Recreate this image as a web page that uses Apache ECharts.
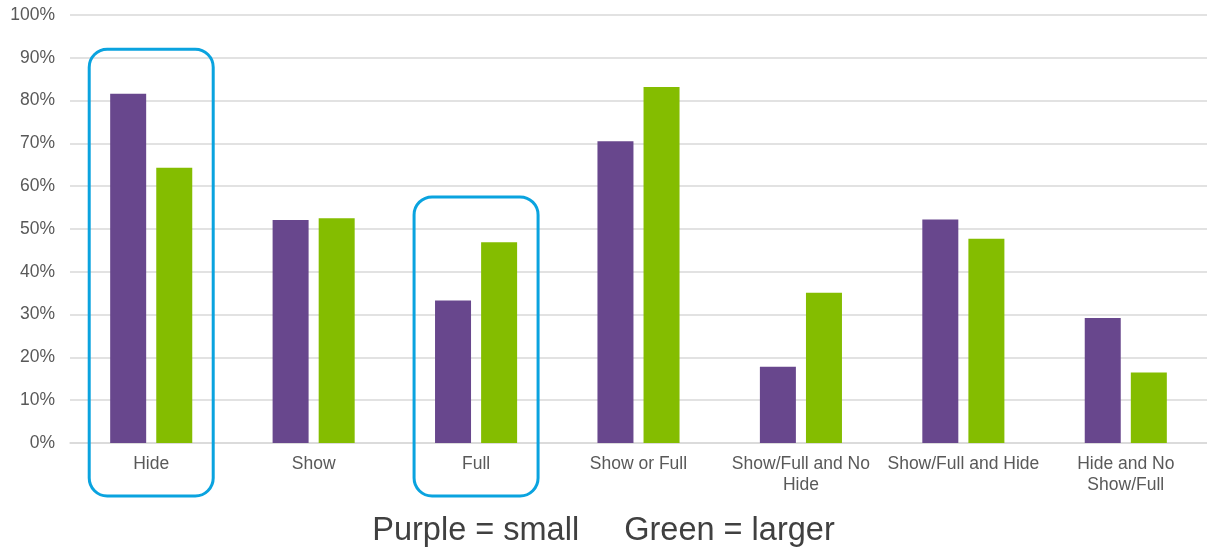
<!DOCTYPE html>
<html>
<head>
<meta charset="utf-8">
<script src="https://cdn.jsdelivr.net/npm/echarts@6/dist/echarts.min.js"></script>
<style>
html,body{margin:0;padding:0;background:#fff;}
#chart{width:1207px;height:554px;}
</style>
</head>
<body>
<div id="chart"></div>
<script>
var categories = ['Hide', 'Show', 'Full', 'Show or Full', 'Show/Full and No Hide', 'Show/Full and Hide', 'Hide and No Show/Full'];
var purpleSmall = [0.816, 0.521, 0.333, 0.705, 0.178, 0.522, 0.292];
var greenLarger = [0.643, 0.525, 0.469, 0.832, 0.351, 0.477, 0.165];
var yTicks = [0, 0.1, 0.2, 0.3, 0.4, 0.5, 0.6, 0.7, 0.8, 0.9, 1.0];
var highlightCats = ['Hide', 'Full'];
var highlightTops = [0.92, 0.575];
var captionText = 'Purple = small     Green = larger';

var chart = echarts.init(document.getElementById('chart'));
var FONT = '"Liberation Sans", Arial, sans-serif';

function wrapLabel(s) {
  // wrap a category label at word boundaries to fit about 18 characters per line
  var words = s.split(' '), lines = [], cur = '';
  words.forEach(function (w) {
    if (cur && (cur + ' ' + w).length > 18) { lines.push(cur); cur = w; }
    else { cur = cur ? cur + ' ' + w : w; }
  });
  if (cur) lines.push(cur);
  return lines.join('\n');
}

chart.setOption({
  animation: false,
  backgroundColor: '#ffffff',
  grid: { left: 70, right: -4, top: 15, bottom: 111, containLabel: false },
  xAxis: {
    type: 'category',
    data: categories,
    axisLine: { show: true, lineStyle: { color: '#d9d9d9', width: 1.5 } },
    axisTick: { show: false },
    axisLabel: {
      color: '#595959', fontFamily: FONT, fontSize: 17.5, margin: 11,
      interval: 0, lineHeight: 21, formatter: wrapLabel
    }
  },
  yAxis: {
    type: 'value',
    min: yTicks[0], max: yTicks[yTicks.length - 1], interval: 0.1,
    axisLine: { show: false },
    axisTick: { show: false },
    splitLine: { lineStyle: { color: '#d9d9d9', width: 1.5 } },
    axisLabel: {
      color: '#595959', fontFamily: FONT, fontSize: 17.5, margin: 15,
      formatter: function (v) { return Math.round(v * 100) + '%'; }
    }
  },
  series: [
    { name: 'Purple = small', type: 'bar', data: purpleSmall, barWidth: 36, barGap: '28%',
      itemStyle: { color: '#68478d' } },
    { name: 'Green = larger', type: 'bar', data: greenLarger, barWidth: 36, barGap: '28%',
      itemStyle: { color: '#84bd00' } }
  ]
});

var graphics = [];
var baseY = chart.convertToPixel({ yAxisIndex: 0 }, 0);
highlightCats.forEach(function (c, i) {
  var cx = chart.convertToPixel({ xAxisIndex: 0 }, c);
  var ty = chart.convertToPixel({ yAxisIndex: 0 }, highlightTops[i]);
  var by = baseY + 53;
  graphics.push({
    type: 'rect',
    shape: { x: cx - 62, y: ty, width: 124, height: by - ty, r: 18 },
    style: { fill: 'none', stroke: '#0aa3df', lineWidth: 3 },
    z: 10
  });
});
graphics.push({
  type: 'text',
  left: 'center',
  top: 515,
  style: { text: captionText, fill: '#404040', font: '32.5px ' + FONT, textAlign: 'center' }
});
chart.setOption({ graphic: graphics });
</script>
</body>
</html>
